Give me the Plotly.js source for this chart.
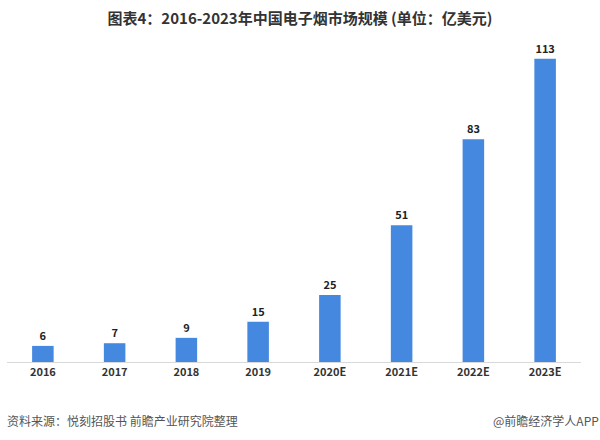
<!DOCTYPE html>
<html>
<head>
<meta charset="utf-8">
<script src="https://cdn.plot.ly/plotly-3.0.1.min.js"></script>
<style>html,body{margin:0;padding:0;background:#fff;}#chart{width:600px;height:440px;}</style>
</head>
<body>
<div id="chart"></div>
<script>
const categories = ["2016","2017","2018","2019","2020E","2021E","2022E","2023E"];
const marketSize = [6,7,9,15,25,51,83,113];
const chartTitle = "图表4：2016-2023年中国电子烟市场规模 (单位：亿美元)";
const sourceNote = "资料来源：悦刻招股书 前瞻产业研究院整理";
const brandNote = "@前瞻经济学人APP";

const font = "'Microsoft YaHei','Noto Sans CJK SC','DejaVu Sans',sans-serif";

Plotly.newPlot('chart', [{
  type: 'bar',
  x: categories,
  y: marketSize,
  text: marketSize.map(String),
  textposition: 'outside',
  cliponaxis: false,
  textfont: {family: font, size: 11, color: '#222', weight: 'bold'},
  marker: {color: '#4488e0'},
  hoverinfo: 'none'
}], {
  width: 600, height: 440,
  margin: {l: 7, r: 19, t: 40, b: 78},
  paper_bgcolor: '#fff', plot_bgcolor: '#fff',
  bargap: 0.7,
  showlegend: false,
  title: {text: '<b>' + chartTitle + '</b>', x: 0.5, xanchor: 'center', y: 0.958, yanchor: 'middle',
          font: {family: font, size: 15, color: '#333'}},
  xaxis: {type: 'category', showgrid: false, showline: true, linecolor: '#d9d9d9', linewidth: 1,
          ticks: '', tickfont: {family: font, size: 11, color: '#333', weight: 'bold'}, fixedrange: true},
  yaxis: {range: [0, 120], visible: false, showgrid: false, zeroline: false, fixedrange: true},
  annotations: [
    {text: sourceNote, xref: 'paper', yref: 'paper', x: -0.003, y: 0, xanchor: 'left', yanchor: 'middle',
     yshift: -58, showarrow: false, font: {family: font, size: 12, color: '#555'}},
    {text: brandNote, xref: 'paper', yref: 'paper', x: 1.035, y: 0, xanchor: 'right', yanchor: 'middle',
     yshift: -58, showarrow: false, font: {family: font, size: 12, color: '#555'}}
  ]
}, {displayModeBar: false, staticPlot: true});
</script>
</body>
</html>
